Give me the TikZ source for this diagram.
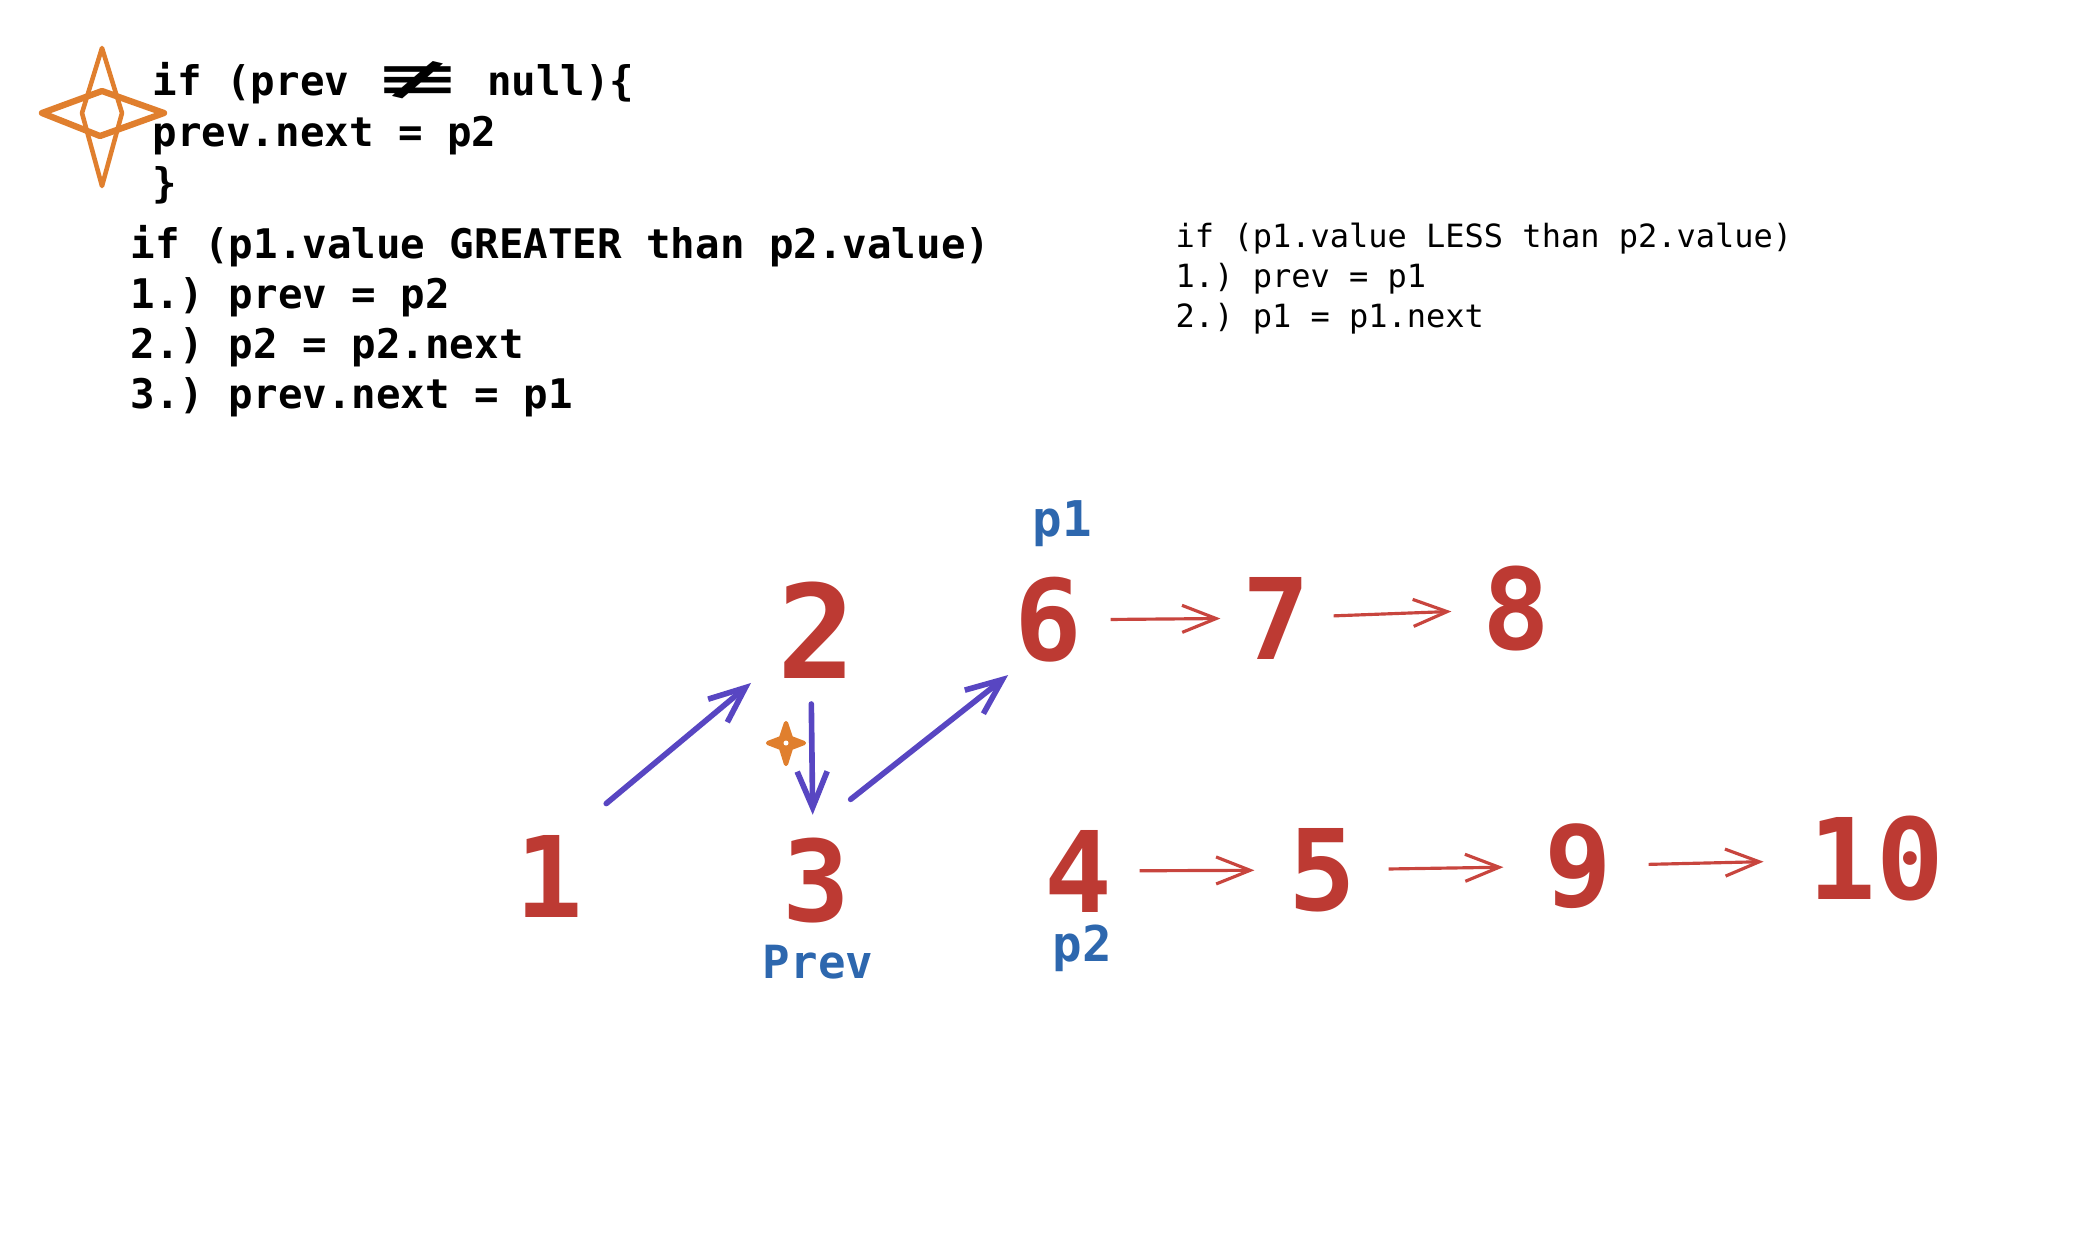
\documentclass[tikz,border=0pt]{standalone}
\usepackage{fontspec}
\newfontfamily\codefont{DejaVu Sans Mono}
\newfontfamily\symfont{DejaVu Sans}
\usetikzlibrary{arrows.meta,positioning}

\definecolor{numred}{HTML}{BD3A33}
\definecolor{linkred}{HTML}{C8453E}
\definecolor{ptrblue}{HTML}{2D67AE}
\definecolor{pushpurple}{HTML}{5846C2}
\definecolor{markorange}{HTML}{E07F2E}

\begin{document}
\frenchspacing
\begin{tikzpicture}[
    x=0.01cm, y=-0.01cm,
    num/.style={text=numred, inner sep=0, font=\codefont\bfseries\fontsize{32}{32}\selectfont},
    ptr/.style={text=ptrblue, inner sep=0, anchor=base, font=\codefont\bfseries\fontsize{14}{14}\selectfont},
    code/.style={inner sep=0, anchor=north west, align=left},
    relink/.style 2 args={-{Straight Barb[length=0.34cm,width=0.27cm]}, linkred, line width=0.9pt, shorten <=#1, shorten >=#2},
    push/.style={-{Straight Barb[length=0.36cm,width=0.3cm]}, pushpurple, line width=1.6pt, line cap=round}
]
\useasboundingbox (0,0) rectangle (2076,1256);

% Marker star
\draw[markorange, line width=1.8pt, line join=round] (42,113) -- (102,91) -- (164,113) -- (100,136) -- cycle;
\draw[markorange, line width=1.3pt, line join=round] (102,48) -- (122,113) -- (102,186) -- (82,113) -- cycle;

% Code
\node[code, font=\codefont\bfseries\fontsize{11.6}{14.5}\selectfont] (guard) at (152,61)
    {if (prev \scalebox{2.6}[1.2]{\symfont\bfseries ≢} null)\{\\prev.next = p2\\\}};
\node[code, font=\codefont\bfseries\fontsize{11.6}{14.2}\selectfont] (greater) at (130,225)
    {if (p1.value GREATER than p2.value)\\1.) prev = p2\\2.) p2 = p2.next\\3.) prev.next = p1};
\node[code, font=\codefont\fontsize{9.1}{11.4}\selectfont] (less) at (1175,222)
    {if (p1.value LESS than p2.value)\\1.) prev = p1\\2.) p1 = p1.next};

% List values
\node[num] (n1) at (549,876) {1};
\node[num, font=\codefont\bfseries\fontsize{37}{37}\selectfont] (n2) at (817,630) {2};
\node[num] (n3) at (816,881) {3};
\node[num] (n6) at (1048,620) {6};
\node[num] (n7) at (1276,618) {7};
\node[num] (n8) at (1516,609) {8};
\node[num] (n4) at (1078,871) {4};
\node[num] (n5) at (1322,870) {5};
\node[num] (n9) at (1578,866) {9};
\node[num] (n10) at (1876,859) {10};

% Pointers
\node[ptr] (p1) at (1062,536) {p1};
\node[ptr] (p2) at (1082,961) {p2};
\node[ptr, font=\codefont\bfseries\fontsize{13}{13}\selectfont] (prev) at (818,978) {Prev};

% Next links
\draw[relink={0.28cm}{0.21cm}] (n6) -- (n7);
\draw[relink={0.23cm}{0.30cm}] (n7) -- (n8);
\draw[relink={0.27cm}{0.33cm}] (n4) -- (n5);
\draw[relink={0.32cm}{0.40cm}] (n5) -- (n9);
\draw[relink={0.36cm}{0.44cm}] (n9) -- (n10);

% Merged path
\draw[push, shorten <=0.48cm, shorten >=0.34cm] (n1.64) -- (n2.218);
\draw[push, shorten <=0.25cm, shorten >=0.23cm] ([xshift=-0.06cm]n2.south) -- ([xshift=-0.03cm]n3.north);
\draw[push, shorten <=0.62cm, shorten >=0.19cm] (n3.108) -- (n6.240);

% Small marker
\filldraw[markorange, line width=1.2pt, line join=round] (786,723) -- (791,738) -- (804,743) -- (791,748) -- (786,764) -- (781,748) -- (768,743) -- (781,738) -- cycle;
\fill[white] (786,743) circle (0.025cm);

\end{tikzpicture}
\end{document}
